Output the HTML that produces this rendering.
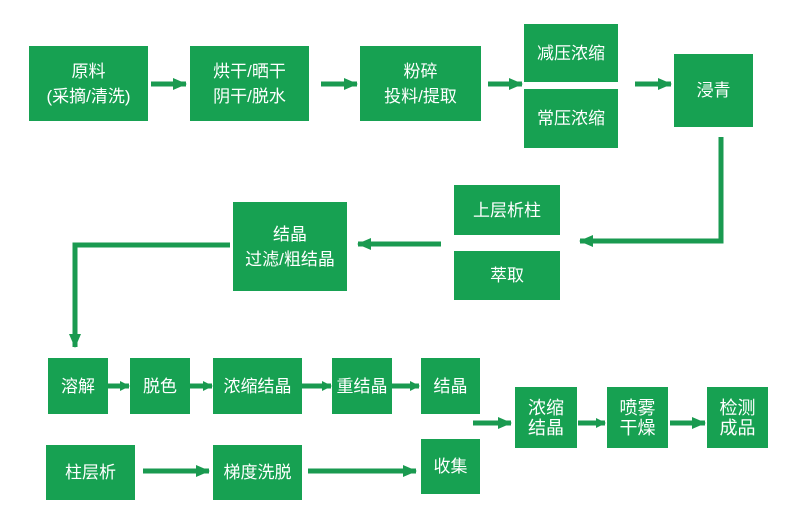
<!DOCTYPE html>
<html><head><meta charset="utf-8"><style>
html,body{margin:0;padding:0;background:#fff;}
body{width:800px;height:526px;position:relative;overflow:hidden;font-family:"Liberation Sans","Noto Sans CJK SC",sans-serif;}
.b{position:absolute;background:#17a152;color:#fff;display:flex;align-items:center;justify-content:center;text-align:center;font-size:17px;line-height:25px;}
.t{font-size:18px;line-height:20px;}
svg{position:absolute;left:0;top:0;}
</style></head><body>
<svg width="800" height="526">
<defs><marker id="a" markerWidth="10" markerHeight="10" refX="9" refY="5" orient="auto" markerUnits="userSpaceOnUse"><path d="M0,0 L10,5 L0,10 Z" fill="#1a9a50"/></marker>
<marker id="h" markerWidth="14" markerHeight="12" refX="13" refY="6" orient="auto" markerUnits="userSpaceOnUse"><path d="M0,0 L14,6 L0,12 Z" fill="#1a9a50"/></marker></defs>
<g stroke="#1a9a50" stroke-width="5" fill="none">
<line x1="151" y1="84" x2="186" y2="84" marker-end="url(#h)"/>
<line x1="321" y1="84" x2="357" y2="84" marker-end="url(#h)"/>
<line x1="488" y1="84" x2="522" y2="84" marker-end="url(#h)"/>
<line x1="635" y1="84" x2="671" y2="84" marker-end="url(#h)"/>
<polyline points="721,137 721,241 580,241" marker-end="url(#h)"/>
<line x1="441" y1="244" x2="358" y2="244" marker-end="url(#h)"/>
<polyline points="230,245 75,245 75,347" marker-end="url(#h)"/>
<line x1="108" y1="386" x2="129" y2="386" marker-end="url(#a)"/>
<line x1="190" y1="386" x2="212" y2="386" marker-end="url(#a)"/>
<line x1="302" y1="386" x2="331" y2="386" marker-end="url(#a)"/>
<line x1="392" y1="386" x2="419" y2="386" marker-end="url(#a)"/>
<line x1="143" y1="471" x2="209" y2="471" marker-end="url(#h)"/>
<line x1="308" y1="471" x2="416" y2="471" marker-end="url(#h)"/>
<line x1="473" y1="423" x2="511" y2="423" marker-end="url(#h)"/>
<line x1="578" y1="423" x2="605" y2="423" marker-end="url(#a)"/>
<line x1="670" y1="423" x2="705" y2="423" marker-end="url(#h)"/>
</g></svg>
<div class="b" style="left:29px;top:46px;width:119px;height:75px;">原料<br>(采摘/清洗)</div>
<div class="b" style="left:190px;top:46px;width:119px;height:75px;">烘干/晒干<br>阴干/脱水</div>
<div class="b" style="left:360px;top:46px;width:121px;height:75px;">粉碎<br>投料/提取</div>
<div class="b" style="left:524px;top:24px;width:94px;height:58px;">减压浓缩</div>
<div class="b" style="left:524px;top:89px;width:94px;height:59px;">常压浓缩</div>
<div class="b" style="left:674px;top:54px;width:79px;height:73px;">浸青</div>
<div class="b" style="left:454px;top:185px;width:106px;height:50px;">上层析柱</div>
<div class="b" style="left:454px;top:251px;width:106px;height:49px;">萃取</div>
<div class="b" style="left:233px;top:202px;width:114px;height:89px;">结晶<br>过滤/粗结晶</div>
<div class="b" style="left:48px;top:358px;width:60px;height:56px;">溶解</div>
<div class="b" style="left:130px;top:358px;width:60px;height:56px;">脱色</div>
<div class="b" style="left:213px;top:358px;width:89px;height:56px;">浓缩结晶</div>
<div class="b" style="left:332px;top:358px;width:60px;height:56px;">重结晶</div>
<div class="b" style="left:421px;top:358px;width:59px;height:56px;">结晶</div>
<div class="b" style="left:46px;top:445px;width:89px;height:55px;">柱层析</div>
<div class="b" style="left:213px;top:445px;width:89px;height:55px;">梯度洗脱</div>
<div class="b" style="left:421px;top:439px;width:59px;height:55px;">收集</div>
<div class="b t" style="left:515px;top:387px;width:62px;height:61px;">浓缩<br>结晶</div>
<div class="b t" style="left:607px;top:387px;width:61px;height:61px;">喷雾<br>干燥</div>
<div class="b t" style="left:707px;top:387px;width:61px;height:61px;">检测<br>成品</div>
</body></html>
